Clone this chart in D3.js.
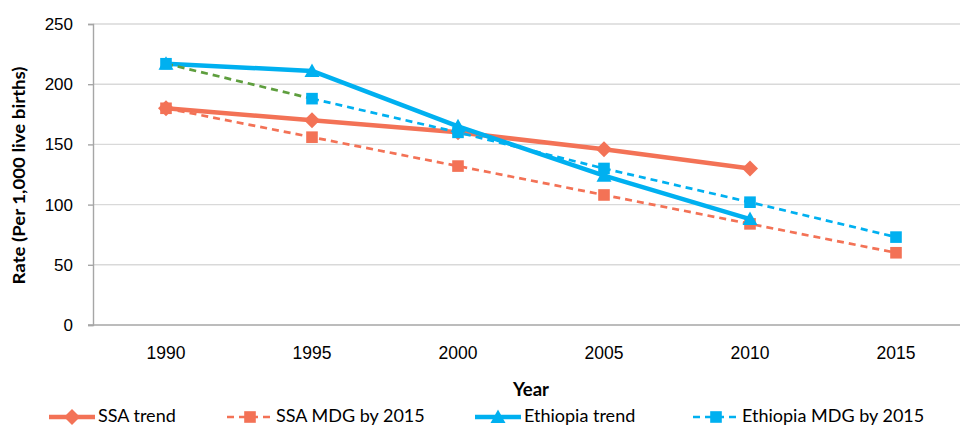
<!DOCTYPE html>
<html><head><meta charset="utf-8">
<script src="https://cdn.jsdelivr.net/npm/d3@7/dist/d3.min.js"></script>
<style>
body{margin:0;background:#fff;}
svg{display:block;font-family:Lato,"Open Sans",sans-serif;}
</style></head><body>
<svg id="c" width="960" height="428"></svg>
<script>
const years = ["1990","1995","2000","2005","2010","2015"];
const ssaTrend = [180,170,160,146,130,null];
const ssaMDG = [180,156,132,108,84,60];
const ethTrend = [217,211,165,124,88,null];
const ethMDG = [217,188,160,130,102,73];
const yTicks = [0,50,100,150,200,250];
const seriesNames = ["SSA trend","SSA MDG by 2015","Ethiopia trend","Ethiopia MDG by 2015"];

const ORANGE="#F37256", BLUE="#00B0F0", GREEN="#5E9E3E";
const svg=d3.select("#c");
const mL=93, mT=24, mB=325, mR=969;
const x=d3.scaleBand().domain(years).range([mL,mR]);
const y=d3.scaleLinear().domain([0,250]).range([mB,mT]);
const cx=d=>x(d)+x.bandwidth()/2;

// gridlines
svg.append("g").selectAll("line").data(yTicks.filter(t=>t>0)).join("line")
 .attr("x1",mL).attr("x2",960).attr("y1",d=>y(d)).attr("y2",d=>y(d))
 .attr("stroke","#D9D9D9").attr("stroke-width",1.4);

// axes
const ya=svg.append("g").attr("transform",`translate(${mL},0)`)
 .call(d3.axisLeft(y).tickValues(yTicks).tickSize(5).tickPadding(15));
ya.select(".domain").attr("stroke","#A6A6A6").attr("stroke-width",1.4);
ya.selectAll(".tick line").attr("stroke","#A6A6A6").attr("stroke-width",1.4);
ya.selectAll("text").attr("font-size",17).attr("fill","#000").attr("font-family","inherit");

const xa=svg.append("g").attr("transform",`translate(0,${mB})`)
 .call(d3.axisBottom(x).tickSize(0).tickPadding(22));
xa.select(".domain").attr("stroke","#A6A6A6").attr("stroke-width",1.4).attr("d",`M${mL-5},0H960`);
xa.selectAll("text").attr("font-size",17.5).attr("fill","#000").attr("font-family","inherit");

// titles
svg.append("text").attr("transform",`translate(21,${(mT+mB)/2+1}) rotate(-90)`)
 .attr("text-anchor","middle").attr("dominant-baseline","middle")
 .attr("font-weight","bold").attr("font-size",17.5)
 .attr("textLength",218).attr("lengthAdjust","spacingAndGlyphs")
 .text("Rate (Per 1,000 live births)");
svg.append("text").attr("x",531).attr("y",391).attr("text-anchor","middle").attr("dominant-baseline","middle")
 .attr("font-weight","bold").attr("font-size",18.5).text("Year");

function pts(vals){return years.map((yr,i)=>({yr,v:vals[i]})).filter(d=>d.v!=null);}
const line=d3.line().x(d=>cx(d.yr)).y(d=>y(d.v));

function drawMarker(g,type,color,px,py,size){
  if(type==="diamond"){
    g.append("path").attr("d",`M${px},${py-size}L${px+size},${py}L${px},${py+size}L${px-size},${py}Z`).attr("fill",color);
  } else if(type==="square"){
    g.append("rect").attr("x",px-size).attr("y",py-size).attr("width",2*size).attr("height",2*size).attr("fill",color);
  } else {
    g.append("path").attr("d",`M${px},${py-size}L${px+size},${py+size*0.8}L${px-size},${py+size*0.8}Z`).attr("fill",color);
  }
}

const defs=[
 {vals:ssaTrend,color:ORANGE,w:4.5,dash:null,marker:"diamond",ms:8},
 {vals:ssaMDG,color:ORANGE,w:2.7,dash:"7,5",marker:"square",ms:5.8},
 {vals:ethTrend,color:BLUE,w:4.5,dash:null,marker:"triangle",ms:7.5},
 {vals:ethMDG,color:BLUE,w:2.7,dash:"7,5",marker:"square",ms:5.8},
];
defs.forEach((s,si)=>{
  const g=svg.append("g");
  const p=pts(s.vals);
  if(si===3){
    g.append("path").datum(p.slice(0,2)).attr("d",line).attr("fill","none").attr("stroke",GREEN).attr("stroke-width",s.w).attr("stroke-dasharray",s.dash);
    g.append("path").datum(p.slice(1)).attr("d",line).attr("fill","none").attr("stroke",s.color).attr("stroke-width",s.w).attr("stroke-dasharray",s.dash);
  } else {
    g.append("path").datum(p).attr("d",line).attr("fill","none").attr("stroke",s.color).attr("stroke-width",s.w).attr("stroke-dasharray",s.dash).attr("stroke-linejoin","round");
  }
  p.forEach(d=>drawMarker(g,s.marker,s.color,cx(d.yr),y(d.v),s.ms));
});

// legend
const legX=[49,227,475,693];
const legY=417;
defs.forEach((s,i)=>{
  const g=svg.append("g");
  g.append("line").attr("x1",legX[i]).attr("x2",legX[i]+46).attr("y1",legY).attr("y2",legY)
   .attr("stroke",s.color).attr("stroke-width",s.w).attr("stroke-dasharray",s.dash);
  drawMarker(g,s.marker,s.color,legX[i]+23,legY,s.ms);
  g.append("text").attr("x",legX[i]+49).attr("y",legY).attr("dominant-baseline","middle")
   .attr("font-size",18).text(seriesNames[i]);
});
</script></body></html>
